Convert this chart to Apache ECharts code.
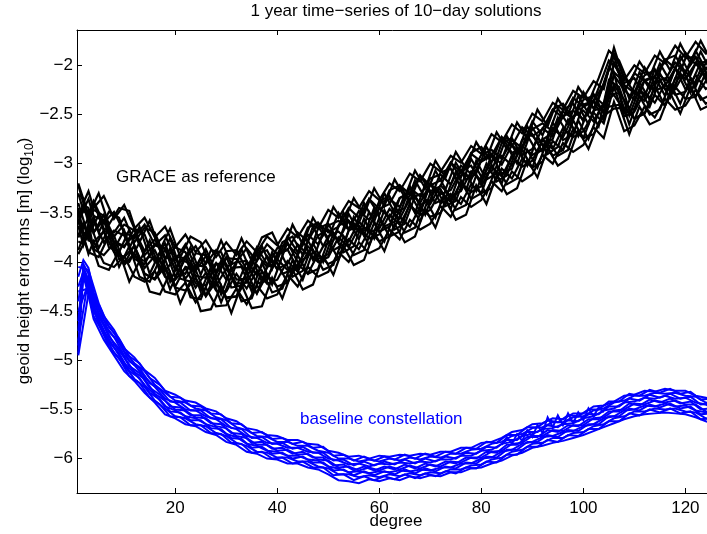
<!DOCTYPE html>
<html>
<head>
<meta charset="utf-8">
<script src="https://cdn.jsdelivr.net/npm/echarts@6/dist/echarts.min.js"></script>
<style>html,body{margin:0;padding:0;background:#fff}#c{width:707px;height:534px}</style>
</head>
<body>
<div id="c"></div>
<script>
// spherical harmonic degree grids (x values shared by the solution curves)
const degrees = [1,2,3,4,6,8,10,12,14,16,18,20,22,24,26,28,30,32,34,36,38,40,42,44,46,48,50,52,54,56,58,60,62,64,66,68,70,72,74,76,78,80,82,84,86,88,90,92,94,96,98,100,102,104,106,108,110,112,114,116,118,120,122,124,126];
const degreesOdd = [1,3,5,7,9,11,13,15,17,19,21,23,25,27,29,31,33,35,37,39,41,43,45,47,49,51,53,55,57,59,61,63,65,67,69,71,73,75,77,79,81,83,85,87,89,91,93,95,97,99,101,103,105,107,109,111,113,115,117,119,121,123,125];

// GRACE reference: 10-day solutions (log10 geoid height error rms), even-degree grid
const grace01 = [-3.22,-3.40,-3.28,-3.45,-3.33,-3.56,-3.42,-3.66,-3.55,-3.75,-3.64,-3.85,-3.72,-3.90,-3.78,-3.95,-3.80,-3.93,-3.79,-3.90,-3.74,-3.83,-3.66,-3.75,-3.58,-3.66,-3.47,-3.55,-3.38,-3.45,-3.28,-3.37,-3.20,-3.28,-3.10,-3.18,-3.00,-3.08,-2.92,-2.99,-2.82,-2.90,-2.70,-2.78,-2.60,-2.69,-2.49,-2.57,-2.38,-2.45,-2.26,-2.33,-2.16,-2.24,-1.82,-2.15,-2.00,-2.08,-1.90,-1.98,-1.80,-1.92,-1.76,-1.88,-1.80];
const grace02 = [-3.30,-3.48,-3.52,-3.38,-3.60,-3.49,-3.70,-3.75,-3.62,-3.83,-3.73,-3.95,-3.96,-3.84,-4.02,-3.88,-4.05,-4.00,-3.86,-3.99,-3.82,-3.92,-3.88,-3.70,-3.79,-3.60,-3.70,-3.64,-3.45,-3.55,-3.36,-3.46,-3.41,-3.22,-3.31,-3.12,-3.22,-3.17,-2.99,-3.08,-2.90,-2.98,-2.92,-2.73,-2.82,-2.63,-2.72,-2.65,-2.45,-2.53,-2.33,-2.42,-2.37,-2.19,-1.90,-2.26,-2.08,-2.16,-2.12,-1.94,-2.03,-1.87,-1.99,-1.96,-1.85];
const grace03 = [-3.55,-3.42,-3.60,-3.47,-3.53,-3.74,-3.62,-3.68,-3.89,-3.77,-3.97,-3.85,-3.90,-4.09,-3.94,-4.12,-3.96,-3.97,-4.10,-3.92,-4.05,-3.86,-3.82,-3.93,-3.72,-3.82,-3.63,-3.58,-3.67,-3.48,-3.57,-3.40,-3.36,-3.44,-3.25,-3.33,-3.15,-3.11,-3.21,-3.02,-3.10,-2.91,-2.86,-2.95,-2.76,-2.84,-2.65,-2.59,-2.67,-2.47,-2.54,-2.35,-2.31,-2.40,-1.97,-2.20,-2.28,-2.10,-2.05,-2.15,-1.97,-2.07,-1.92,-2.04,-1.95];
const grace04 = [-3.60,-3.48,-3.49,-3.70,-3.57,-3.79,-3.84,-3.72,-3.93,-3.82,-3.86,-4.07,-3.94,-4.14,-4.16,-4.01,-4.18,-4.00,-3.99,-4.13,-3.94,-4.07,-4.02,-3.82,-3.93,-3.73,-3.67,-3.78,-3.58,-3.68,-3.64,-3.45,-3.55,-3.35,-3.29,-3.40,-3.20,-3.31,-3.27,-3.07,-3.16,-2.96,-2.90,-3.01,-2.81,-2.91,-2.85,-2.64,-2.72,-2.52,-2.46,-2.55,-2.36,-2.47,-2.10,-2.25,-2.35,-2.15,-2.26,-2.21,-2.03,-2.14,-1.98,-2.11,-2.06];
const grace05 = [-3.50,-3.70,-3.72,-3.58,-3.80,-3.68,-3.73,-3.95,-3.99,-3.88,-4.09,-3.96,-4.17,-4.03,-4.05,-4.24,-4.07,-4.22,-4.21,-4.03,-4.16,-3.97,-4.08,-4.04,-3.84,-3.94,-3.74,-3.69,-3.79,-3.59,-3.70,-3.66,-3.46,-3.56,-3.36,-3.31,-3.41,-3.22,-3.33,-3.28,-3.08,-3.17,-2.97,-2.92,-3.02,-2.82,-2.91,-2.85,-2.64,-2.73,-2.52,-2.46,-2.57,-2.38,-2.30,-2.46,-2.26,-2.36,-2.17,-2.13,-2.24,-2.06,-2.19,-2.03,-2.12];
const grace06 = [-3.73,-3.60,-3.78,-3.80,-3.69,-3.90,-3.95,-3.84,-4.06,-3.94,-4.15,-4.18,-4.06,-4.26,-4.11,-4.29,-4.30,-4.12,-4.27,-4.09,-4.22,-4.18,-3.99,-4.10,-3.90,-4.00,-3.95,-3.75,-3.85,-3.65,-3.76,-3.72,-3.52,-3.62,-3.42,-3.52,-3.47,-3.28,-3.39,-3.19,-3.29,-3.23,-3.03,-3.13,-2.93,-3.03,-2.97,-2.76,-2.85,-2.64,-2.73,-2.67,-2.48,-2.59,-2.22,-2.52,-2.47,-2.27,-2.38,-2.19,-2.30,-2.27,-2.10,-2.24,-2.18];
const grace07 = [-3.63,-3.83,-3.68,-3.87,-3.93,-3.81,-4.03,-3.91,-4.12,-4.18,-4.05,-4.26,-4.29,-4.16,-4.35,-4.20,-4.37,-4.35,-4.18,-4.32,-4.13,-4.25,-4.21,-4.02,-4.12,-3.92,-4.02,-3.97,-3.77,-3.87,-3.68,-3.79,-3.74,-3.54,-3.64,-3.44,-3.54,-3.50,-3.31,-3.41,-3.21,-3.30,-3.25,-3.05,-3.15,-2.95,-3.04,-2.98,-2.77,-2.86,-2.65,-2.74,-2.70,-2.51,-2.44,-2.43,-2.54,-2.49,-2.30,-2.41,-2.22,-2.34,-2.32,-2.16,-2.25];
const grace08 = [-3.88,-3.74,-3.92,-3.79,-4.01,-4.05,-3.94,-4.15,-4.20,-4.09,-4.30,-4.33,-4.21,-4.41,-4.26,-4.45,-4.44,-4.27,-4.43,-4.24,-4.37,-4.33,-4.13,-4.25,-4.05,-4.15,-4.10,-3.90,-4.00,-3.80,-3.91,-3.86,-3.67,-3.77,-3.57,-3.67,-3.61,-3.43,-3.54,-3.34,-3.44,-3.37,-3.18,-3.28,-3.08,-3.18,-3.11,-2.91,-3.00,-2.79,-2.88,-2.81,-2.63,-2.74,-2.37,-2.67,-2.61,-2.42,-2.53,-2.34,-2.45,-2.41,-2.25,-2.39,-2.33];
const grace15 = [-3.32,-3.35,-3.58,-3.40,-3.66,-3.70,-3.55,-3.80,-3.65,-3.70,-3.95,-3.98,-3.82,-4.05,-3.87,-4.10,-3.89,-3.88,-4.08,-3.85,-4.02,-3.98,-3.74,-3.90,-3.65,-3.60,-3.76,-3.50,-3.66,-3.60,-3.36,-3.52,-3.27,-3.22,-3.38,-3.12,-3.28,-3.23,-2.99,-3.14,-2.89,-2.83,-2.99,-2.73,-2.89,-2.83,-2.57,-2.71,-2.45,-2.39,-2.54,-2.27,-2.44,-2.20,-1.88,-2.12,-2.28,-2.02,-2.18,-1.94,-1.90,-2.07,-1.85,-2.04,-1.90];
const grace16 = [-3.62,-3.42,-3.45,-3.70,-3.52,-3.80,-3.85,-3.66,-3.72,-4.00,-3.81,-4.08,-4.12,-3.91,-3.93,-4.19,-3.95,-4.18,-4.17,-3.91,-3.88,-4.08,-3.80,-4.00,-3.95,-3.66,-3.61,-3.80,-3.51,-3.70,-3.66,-3.38,-3.33,-3.52,-3.23,-3.42,-3.37,-3.09,-3.05,-3.24,-2.95,-3.13,-3.08,-2.79,-2.74,-2.93,-2.63,-2.81,-2.75,-2.45,-2.39,-2.57,-2.29,-2.49,-1.98,-2.18,-2.13,-2.32,-2.04,-2.24,-2.20,-1.93,-1.91,-2.14,-1.98];
const grace17 = [-3.45,-3.72,-3.74,-3.53,-3.58,-3.87,-3.68,-3.97,-4.02,-3.83,-3.87,-4.15,-3.95,-4.22,-4.24,-4.02,-4.02,-4.25,-4.00,-4.22,-4.19,-3.91,-3.87,-4.07,-3.78,-3.97,-3.92,-3.63,-3.58,-3.77,-3.49,-3.69,-3.64,-3.35,-3.30,-3.49,-3.20,-3.40,-3.36,-3.07,-3.02,-3.20,-2.91,-3.10,-3.05,-2.76,-2.70,-2.88,-2.58,-2.76,-2.70,-2.40,-2.36,-2.56,-2.08,-2.49,-2.44,-2.15,-2.11,-2.31,-2.03,-2.24,-2.22,-1.97,-2.05];
const grace18 = [-3.79,-3.82,-3.60,-3.87,-3.68,-3.73,-4.02,-3.83,-4.12,-4.17,-3.97,-4.25,-4.05,-4.08,-4.34,-4.12,-4.36,-4.35,-4.10,-4.32,-4.05,-4.01,-4.21,-3.93,-4.12,-4.07,-3.78,-3.97,-3.68,-3.63,-3.83,-3.55,-3.74,-3.69,-3.40,-3.59,-3.30,-3.26,-3.46,-3.17,-3.36,-3.30,-3.01,-3.20,-2.91,-2.86,-3.04,-2.74,-2.92,-2.86,-2.56,-2.74,-2.46,-2.42,-2.20,-2.35,-2.54,-2.49,-2.21,-2.41,-2.13,-2.10,-2.32,-2.07,-2.22];
// GRACE reference: more solutions, odd-degree grid
const grace09 = [-3.20,-3.52,-3.30,-3.62,-3.45,-3.48,-3.80,-3.58,-3.88,-3.66,-3.95,-3.74,-3.80,-4.04,-3.78,-4.02,-3.76,-3.99,-3.75,-3.70,-3.92,-3.62,-3.82,-3.55,-3.72,-3.44,-3.60,-3.35,-3.52,-3.25,-3.43,-3.16,-3.34,-3.07,-3.25,-2.97,-3.14,-2.88,-3.05,-2.78,-2.95,-2.68,-2.85,-2.58,-2.74,-2.45,-2.62,-2.34,-2.50,-2.22,-2.38,-2.13,-1.85,-1.95,-2.20,-1.96,-2.12,-1.86,-2.05,-1.78,-1.98,-1.75,-1.95];
const grace10 = [-3.58,-3.36,-3.70,-3.49,-3.55,-3.86,-3.64,-3.95,-3.98,-3.76,-4.07,-3.85,-4.13,-3.88,-3.90,-4.16,-3.87,-4.12,-3.84,-4.07,-3.80,-3.74,-3.93,-3.64,-3.84,-3.78,-3.50,-3.68,-3.40,-3.59,-3.30,-3.50,-3.45,-3.17,-3.35,-3.07,-3.26,-2.99,-3.16,-3.10,-2.83,-3.00,-2.72,-2.90,-2.62,-2.79,-2.72,-2.44,-2.60,-2.31,-2.49,-2.23,-1.95,-2.05,-2.34,-2.07,-2.24,-1.98,-2.16,-1.90,-2.10,-1.86,-2.06];
const grace11 = [-3.40,-3.74,-3.52,-3.85,-3.90,-3.67,-4.00,-3.78,-4.10,-3.86,-4.17,-4.20,-3.96,-4.25,-3.99,-4.26,-4.24,-3.96,-4.20,-3.90,-4.12,-4.08,-3.78,-3.98,-3.69,-3.88,-3.82,-3.54,-3.73,-3.45,-3.64,-3.59,-3.31,-3.50,-3.21,-3.40,-3.35,-3.08,-3.27,-2.97,-3.16,-3.10,-2.82,-3.00,-2.71,-2.89,-2.82,-2.53,-2.70,-2.41,-2.60,-2.34,-2.02,-2.12,-2.45,-2.17,-2.35,-2.08,-2.27,-2.00,-2.20,-1.97,-2.16];
const grace12 = [-3.75,-3.55,-3.86,-3.66,-3.97,-4.00,-3.80,-4.12,-3.90,-4.20,-3.97,-4.02,-4.30,-4.05,-4.33,-4.06,-4.05,-4.30,-4.01,-4.23,-3.94,-4.15,-4.09,-3.81,-4.00,-3.71,-3.90,-3.84,-3.56,-3.76,-3.47,-3.67,-3.61,-3.33,-3.52,-3.24,-3.43,-3.38,-3.10,-3.28,-3.00,-3.18,-3.12,-2.84,-3.02,-2.73,-2.90,-2.83,-2.55,-2.72,-2.44,-2.62,-2.15,-2.22,-2.51,-2.24,-2.42,-2.15,-2.33,-2.08,-2.28,-2.04,-2.25];
const grace13 = [-3.58,-3.90,-3.95,-3.73,-4.05,-3.84,-4.15,-4.20,-3.97,-4.28,-4.05,-4.36,-4.38,-4.13,-4.41,-4.14,-4.40,-4.37,-4.09,-4.31,-4.27,-3.98,-4.18,-3.89,-4.08,-4.03,-3.74,-3.93,-3.88,-3.60,-3.79,-3.51,-3.70,-3.65,-3.36,-3.55,-3.27,-3.47,-3.42,-3.12,-3.31,-3.02,-3.21,-3.15,-2.86,-3.04,-2.75,-2.92,-2.86,-2.56,-2.75,-2.48,-2.30,-2.28,-2.60,-2.31,-2.50,-2.45,-2.18,-2.39,-2.13,-2.35,-2.30];
const grace14 = [-3.92,-3.72,-4.04,-4.08,-3.89,-4.20,-3.99,-4.30,-4.33,-4.11,-4.42,-4.19,-4.50,-4.48,-4.24,-4.52,-4.23,-4.47,-4.45,-4.16,-4.37,-4.08,-4.28,-4.23,-3.94,-4.13,-3.84,-4.03,-3.98,-3.70,-3.89,-3.61,-3.80,-3.74,-3.46,-3.65,-3.37,-3.57,-3.52,-3.22,-3.41,-3.12,-3.31,-3.25,-2.96,-3.14,-2.84,-3.02,-2.95,-2.66,-2.85,-2.58,-2.42,-2.40,-2.70,-2.42,-2.60,-2.55,-2.28,-2.49,-2.22,-2.45,-2.40];

// baseline constellation: 10-day solutions, even-degree grid
const base01 = [-4.15,-3.98,-4.06,-4.31,-4.55,-4.69,-4.88,-4.97,-5.10,-5.18,-5.31,-5.35,-5.41,-5.43,-5.49,-5.52,-5.59,-5.62,-5.69,-5.71,-5.76,-5.77,-5.81,-5.81,-5.85,-5.86,-5.92,-5.94,-5.98,-5.97,-6.00,-5.97,-5.98,-5.96,-5.97,-5.95,-5.96,-5.93,-5.93,-5.89,-5.89,-5.84,-5.83,-5.79,-5.73,-5.71,-5.65,-5.64,-5.59,-5.60,-5.54,-5.54,-5.47,-5.46,-5.42,-5.36,-5.35,-5.31,-5.32,-5.29,-5.31,-5.31,-5.36,-5.38,-5.43];
const base02 = [-4.93,-4.02,-4.12,-4.36,-4.59,-4.72,-4.91,-5.03,-5.11,-5.25,-5.33,-5.41,-5.43,-5.49,-5.51,-5.58,-5.61,-5.68,-5.71,-5.77,-5.78,-5.83,-5.83,-5.87,-5.87,-5.92,-5.94,-6.00,-6.00,-6.03,-6.01,-6.03,-6.00,-6.02,-5.99,-6.01,-5.98,-5.99,-5.95,-5.95,-5.91,-5.90,-5.85,-5.83,-5.77,-5.75,-5.69,-5.68,-5.63,-5.63,-5.58,-5.57,-5.51,-5.49,-5.43,-5.41,-5.36,-5.36,-5.33,-5.34,-5.33,-5.36,-5.37,-5.43,-5.44];
const base03 = [-4.60,-4.05,-4.18,-4.40,-4.63,-4.76,-4.95,-5.05,-5.17,-5.27,-5.39,-5.43,-5.50,-5.51,-5.57,-5.60,-5.67,-5.70,-5.77,-5.79,-5.84,-5.85,-5.89,-5.89,-5.93,-5.94,-6.00,-6.02,-6.06,-6.05,-6.08,-6.05,-6.06,-6.04,-6.05,-6.03,-6.04,-6.01,-6.01,-5.97,-5.97,-5.92,-5.91,-5.85,-5.83,-5.77,-5.75,-5.70,-5.69,-5.65,-5.64,-5.59,-5.57,-5.51,-5.49,-5.43,-5.42,-5.38,-5.39,-5.36,-5.39,-5.38,-5.43,-5.45,-5.50];
const base04 = [-4.40,-4.08,-4.22,-4.47,-4.64,-4.84,-4.97,-5.12,-5.19,-5.34,-5.41,-5.50,-5.51,-5.58,-5.59,-5.67,-5.69,-5.77,-5.79,-5.86,-5.86,-5.92,-5.91,-5.96,-5.95,-6.01,-6.02,-6.09,-6.08,-6.12,-6.09,-6.12,-6.08,-6.11,-6.07,-6.10,-6.06,-6.08,-6.03,-6.04,-5.99,-5.99,-5.93,-5.92,-5.85,-5.84,-5.77,-5.77,-5.71,-5.72,-5.66,-5.66,-5.59,-5.58,-5.51,-5.50,-5.44,-5.45,-5.41,-5.43,-5.41,-5.45,-5.45,-5.52,-5.52];
const base05 = [-4.25,-4.10,-4.26,-4.50,-4.70,-4.87,-5.03,-5.13,-5.25,-5.35,-5.47,-5.51,-5.57,-5.59,-5.65,-5.68,-5.75,-5.78,-5.85,-5.87,-5.92,-5.93,-5.97,-5.97,-6.01,-6.02,-6.08,-6.10,-6.14,-6.13,-6.15,-6.13,-6.14,-6.12,-6.13,-6.11,-6.12,-6.09,-6.09,-6.05,-6.05,-6.00,-5.99,-5.93,-5.91,-5.85,-5.83,-5.78,-5.77,-5.73,-5.72,-5.67,-5.65,-5.59,-5.57,-5.51,-5.50,-5.46,-5.47,-5.44,-5.47,-5.46,-5.51,-5.53,-5.58];
const base06 = [-4.70,-4.12,-4.30,-4.55,-4.73,-4.92,-5.05,-5.19,-5.27,-5.41,-5.49,-5.57,-5.59,-5.65,-5.67,-5.74,-5.77,-5.84,-5.87,-5.93,-5.94,-5.99,-5.99,-6.03,-6.03,-6.08,-6.10,-6.16,-6.16,-6.19,-6.17,-6.19,-6.16,-6.18,-6.15,-6.17,-6.14,-6.15,-6.11,-6.11,-6.07,-6.06,-6.01,-5.99,-5.93,-5.91,-5.85,-5.84,-5.79,-5.79,-5.74,-5.73,-5.67,-5.65,-5.59,-5.57,-5.52,-5.52,-5.49,-5.50,-5.49,-5.52,-5.53,-5.59,-5.60];
const base07 = [-4.85,-4.14,-4.34,-4.58,-4.79,-4.95,-5.11,-5.21,-5.33,-5.43,-5.55,-5.59,-5.65,-5.67,-5.73,-5.76,-5.83,-5.86,-5.93,-5.95,-6.00,-6.01,-6.05,-6.05,-6.09,-6.11,-6.16,-6.22,-6.23,-6.25,-6.21,-6.23,-6.20,-6.22,-6.18,-6.20,-6.17,-6.18,-6.14,-6.14,-6.10,-6.09,-6.05,-6.02,-5.97,-5.94,-5.89,-5.87,-5.84,-5.82,-5.79,-5.76,-5.72,-5.68,-5.64,-5.60,-5.57,-5.55,-5.54,-5.53,-5.54,-5.55,-5.58,-5.62,-5.65];
// baseline constellation: more solutions, odd-degree grid
const base08 = [-4.05,-4.08,-4.42,-4.66,-4.78,-4.96,-5.03,-5.18,-5.25,-5.37,-5.38,-5.46,-5.47,-5.54,-5.55,-5.64,-5.65,-5.74,-5.73,-5.80,-5.79,-5.85,-5.83,-5.89,-5.88,-5.97,-5.96,-6.02,-5.98,-6.02,-5.98,-6.01,-5.96,-6.00,-5.95,-5.98,-5.93,-5.95,-5.89,-5.90,-5.83,-5.84,-5.76,-5.76,-5.68,-5.68,-5.61,-5.63,-5.56,-5.57,-5.50,-5.50,-5.42,-5.42,-5.34,-5.36,-5.30,-5.33,-5.29,-5.34,-5.32,-5.40,-5.39];
const base09 = [-4.80,-4.17,-4.47,-4.71,-4.82,-5.01,-5.08,-5.23,-5.30,-5.42,-5.43,-5.51,-5.51,-5.59,-5.60,-5.69,-5.70,-5.79,-5.78,-5.85,-5.84,-5.90,-5.88,-5.94,-5.94,-6.02,-6.01,-6.07,-6.03,-6.07,-6.03,-6.06,-6.01,-6.05,-6.00,-6.03,-5.98,-6.00,-5.94,-5.95,-5.88,-5.89,-5.81,-5.81,-5.73,-5.73,-5.66,-5.68,-5.61,-5.62,-5.55,-5.55,-5.47,-5.47,-5.39,-5.41,-5.35,-5.38,-5.34,-5.39,-5.37,-5.45,-5.44];
const base10 = [-4.50,-4.22,-4.53,-4.76,-4.88,-5.06,-5.13,-5.28,-5.35,-5.47,-5.48,-5.56,-5.56,-5.64,-5.65,-5.74,-5.75,-5.84,-5.83,-5.90,-5.89,-5.95,-5.93,-5.99,-5.99,-6.07,-6.06,-6.12,-6.08,-6.12,-6.08,-6.11,-6.06,-6.10,-6.05,-6.08,-6.03,-6.05,-5.99,-6.00,-5.93,-5.94,-5.86,-5.86,-5.78,-5.78,-5.71,-5.73,-5.66,-5.67,-5.60,-5.60,-5.52,-5.52,-5.44,-5.46,-5.40,-5.43,-5.39,-5.44,-5.42,-5.50,-5.49];
const base11 = [-4.30,-4.27,-4.58,-4.81,-4.93,-5.11,-5.18,-5.33,-5.40,-5.52,-5.53,-5.61,-5.61,-5.69,-5.70,-5.79,-5.80,-5.89,-5.88,-5.95,-5.94,-6.00,-5.98,-6.04,-6.04,-6.12,-6.11,-6.17,-6.13,-6.17,-6.13,-6.16,-6.11,-6.15,-6.10,-6.13,-6.08,-6.10,-6.04,-6.05,-5.98,-5.99,-5.91,-5.91,-5.83,-5.83,-5.76,-5.78,-5.71,-5.72,-5.65,-5.65,-5.57,-5.57,-5.49,-5.51,-5.45,-5.48,-5.44,-5.49,-5.47,-5.55,-5.54];
const base12 = [-4.95,-4.32,-4.63,-4.86,-4.98,-5.16,-5.23,-5.38,-5.45,-5.57,-5.58,-5.66,-5.66,-5.74,-5.75,-5.84,-5.85,-5.94,-5.93,-6.00,-5.99,-6.05,-6.03,-6.09,-6.09,-6.17,-6.16,-6.22,-6.18,-6.22,-6.18,-6.21,-6.16,-6.20,-6.15,-6.18,-6.13,-6.15,-6.09,-6.10,-6.03,-6.04,-5.96,-5.96,-5.88,-5.88,-5.81,-5.83,-5.76,-5.77,-5.70,-5.70,-5.62,-5.62,-5.54,-5.56,-5.50,-5.53,-5.49,-5.54,-5.52,-5.60,-5.59];
// one solution with a strong degree-by-degree zigzag
const zigDegrees = [84,85,86,87,88,89,90,91,92,93,94,95,96,97,98,99,100,101,102,103,104];
const base13 = [-5.86,-5.78,-5.85,-5.75,-5.82,-5.71,-5.78,-5.66,-5.74,-5.58,-5.68,-5.56,-5.66,-5.54,-5.64,-5.53,-5.61,-5.49,-5.57,-5.48,-5.53];

const graceEven = [grace01, grace02, grace03, grace04, grace05, grace06, grace07, grace08, grace15, grace16, grace17, grace18];
const graceOdd = [grace09, grace10, grace11, grace12, grace13, grace14];
const baseEven = [base01, base02, base03, base04, base05, base06, base07];
const baseOdd = [base08, base09, base10, base11, base12];

const FONT = '"Liberation Sans", Arial, Helvetica, sans-serif';
const chart = echarts.init(document.getElementById('c'), null, {renderer: 'canvas'});

function mkSeries(xs, ys, color, w) {
  return {
    type: 'line', data: xs.map((d, i) => [d, ys[i]]),
    showSymbol: false, symbol: 'none', silent: true, animation: false,
    lineStyle: {color: color, width: w, join: 'miter'}, itemStyle: {color: color},
    xAxisIndex: 0, yAxisIndex: 0, clip: true
  };
}
const series = [];
graceEven.forEach(a => series.push(mkSeries(degrees, a, '#000000', 2.2)));
graceOdd.forEach(a => series.push(mkSeries(degreesOdd, a, '#000000', 2.2)));
baseEven.forEach(a => series.push(mkSeries(degrees, a, '#0000ff', 2)));
baseOdd.forEach(a => series.push(mkSeries(degreesOdd, a, '#0000ff', 2)));
series.push(mkSeries(zigDegrees, base13, '#0000ff', 2));

const xFmt = v => (v > 0 && Math.abs(v / 20 - Math.round(v / 20)) < 1e-6) ? String(Math.round(v)) : '';
const yFmt = v => (Math.abs(v * 2 - Math.round(v * 2)) < 1e-6) ? String(Math.round(v * 2) / 2).replace('-', '\u2212') : '';

const axisCommon = {
  type: 'value',
  axisLine: {show: true, onZero: false, lineStyle: {color: '#000', width: 1}},
  axisTick: {show: true, inside: true, length: 5, lineStyle: {color: '#000', width: 1}},
  splitLine: {show: false}
};

chart.setOption({
  animation: false,
  backgroundColor: '#fff',
  grid: {left: 77, top: 30, right: -9, bottom: 41, containLabel: false, outerBoundsMode: 'none'},
  xAxis: [
    Object.assign({}, axisCommon, {
      position: 'bottom', min: 0.75, max: 126, splitNumber: 6,
      axisLabel: {formatter: xFmt, color: '#000', fontSize: 17, fontFamily: FONT, margin: 7}
    }),
    Object.assign({}, axisCommon, {
      position: 'top', min: 0.75, max: 126, splitNumber: 6,
      axisLabel: {show: false}
    })
  ],
  yAxis: [
    Object.assign({}, axisCommon, {
      position: 'left', min: -6.35, max: -1.64, splitNumber: 10,
      axisLabel: {formatter: yFmt, color: '#000', fontSize: 17, fontFamily: FONT, margin: 4}
    })
  ],
  series: series,
  graphic: [
    {type: 'text', x: 396, y: 11, silent: true,
     style: {text: '1 year time\u2212series of 10\u2212day solutions', fill: '#000', fontSize: 17, fontFamily: FONT, textAlign: 'center', textVerticalAlign: 'middle'}},
    {type: 'text', x: 396, y: 521, silent: true,
     style: {text: 'degree', fill: '#000', fontSize: 17, fontFamily: FONT, textAlign: 'center', textVerticalAlign: 'middle'}},
    {type: 'text', x: 116, y: 177, silent: true,
     style: {text: 'GRACE as reference', fill: '#000', fontSize: 17, fontFamily: FONT, textAlign: 'left', textVerticalAlign: 'middle'}},
    {type: 'text', x: 300, y: 419, silent: true,
     style: {text: 'baseline constellation', fill: '#0000ff', fontSize: 17, fontFamily: FONT, textAlign: 'left', textVerticalAlign: 'middle'}},
    {type: 'text', x: 24, y: 261, rotation: Math.PI / 2, silent: true,
     style: {text: '{a|geoid height error rms [m] (log}{b|10}{a|)}', fill: '#000', fontFamily: FONT, textAlign: 'center', textVerticalAlign: 'middle',
       rich: {a: {fontSize: 17, fontFamily: FONT, lineHeight: 24, verticalAlign: 'middle', fill: '#000'},
              b: {fontSize: 12, fontFamily: FONT, lineHeight: 24, verticalAlign: 'bottom', fill: '#000'}}}}
  ]
});
</script>
</body>
</html>
